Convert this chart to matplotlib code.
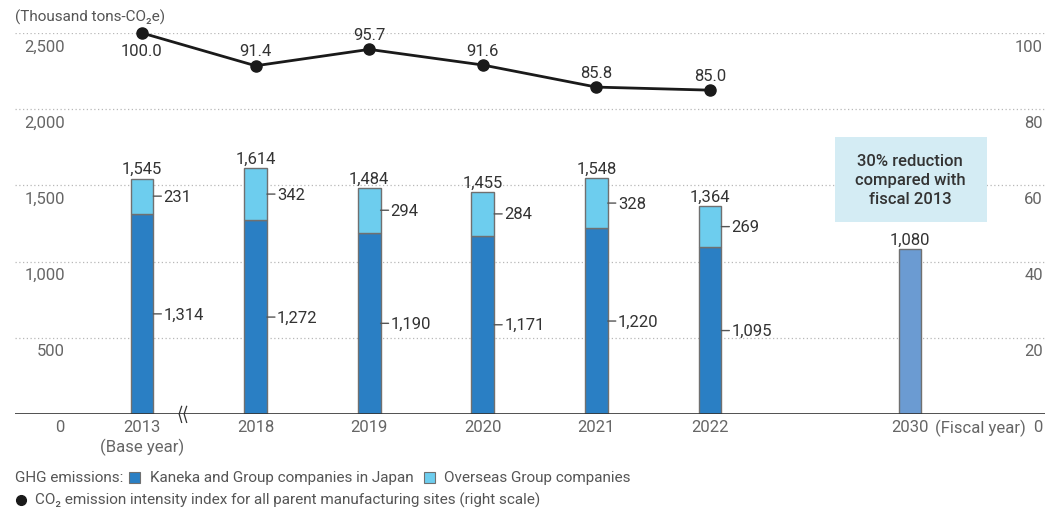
import matplotlib
matplotlib.use("Agg")
import matplotlib.pyplot as plt
from matplotlib import transforms
from matplotlib.patches import Rectangle

plt.rcParams["font.family"] = ["Roboto", "DejaVu Sans"]

# ---- data ----
years = ["2013", "2018", "2019", "2020", "2021", "2022"]
japan = [1314, 1272, 1190, 1171, 1220, 1095]
overseas = [231, 342, 294, 284, 328, 269]
totals = [1545, 1614, 1484, 1455, 1548, 1364]
intensity = [100.0, 91.4, 95.7, 91.6, 85.8, 85.0]
target_year = "2030"
target_value = 1080
left_ticks = [0, 500, 1000, 1500, 2000, 2500]
right_ticks = [0, 20, 40, 60, 80, 100]

# ---- style ----
C_JAPAN = "#2a7fc4"
C_OVER = "#6dcdee"
C_TARGET = "#6b9bd2"
C_EDGE = "#707070"
C_TEXT = "#333333"
C_TICK = "#666666"
C_GRID = "#b8b8b8"

W, H = 1045, 510
Y0, Y1 = 415, 34          # pixel rows of the 0 and 2,500 lines
fig = plt.figure(figsize=(W / 100, H / 100), dpi=100)
fig.patch.set_facecolor("white")

ax = fig.add_axes([15 / W, (H - Y0) / H, (W - 15) / W, (Y0 - Y1) / H])
slot = 113.6
ax.set_xlim((15 - 142) / slot, (W - 142) / slot)
ax.set_ylim(0, 2500)
for s in ax.spines.values():
    s.set_visible(False)
ax.set_xticks([])
ax.set_yticks([])

ax2 = ax.twinx()
ax2.set_ylim(0, 100)
for s in ax2.spines.values():
    s.set_visible(False)
ax2.set_yticks([])

xs = list(range(len(years)))
x_target = 6.76
bw = 0.2

# gridlines and baseline
for v in left_ticks[1:]:
    ax.axhline(v, color=C_GRID, lw=0.9, ls=(0, (1, 2)), zorder=0)
ax.axhline(0, color="#333333", lw=1.2, zorder=3)

# tick labels sitting below their gridlines
off = lambda tr, dx=0, dy=0: transforms.offset_copy(tr, fig=fig, x=dx, y=dy, units="dots")
ltr = transforms.blended_transform_factory(fig.transFigure, ax.transData)
for v in left_ticks:
    ax.text(65 / W, v, f"{v:,}", transform=off(ltr, 0, -13), ha="right", va="center",
            fontsize=12, color=C_TICK)
rtr = transforms.blended_transform_factory(fig.transFigure, ax2.transData)
for v in right_ticks:
    ax2.text(1043 / W, v, f"{v}", transform=off(rtr, 0, -13), ha="right", va="center",
             fontsize=12, color=C_TICK)

# stacked bars
ax.bar(xs, japan, width=bw, color=C_JAPAN, edgecolor=C_EDGE, lw=1, zorder=2)
ax.bar(xs, overseas, width=bw, bottom=japan, color=C_OVER, edgecolor=C_EDGE, lw=1, zorder=2)
ax.bar([x_target], [target_value], width=bw, color=C_TARGET, edgecolor=C_EDGE, lw=1, zorder=2)

for x, j, o, t in zip(xs, japan, overseas, totals):
    ax.text(x, t, f"{t:,}", transform=off(ax.transData, 0, 10), ha="center", va="center",
            fontsize=12, color=C_TEXT)
    for yv, val in ((j + o / 2, o), (j / 2, j)):
        ax.annotate("", xy=(x + bw / 2, yv), xytext=(8, 0), textcoords="offset pixels",
                    arrowprops=dict(arrowstyle="-", color="#555555", lw=1,
                                    shrinkA=0, shrinkB=0))
        ax.text(x + bw / 2, yv, f"{val:,}", transform=off(ax.transData, 10, 0),
                ha="left", va="center", fontsize=12, color=C_TEXT)

ax.text(x_target, target_value, f"{target_value:,}", transform=off(ax.transData, 0, 10),
        ha="center", va="center", fontsize=12, color=C_TEXT)

# target note box
ax.add_patch(Rectangle((6.10, 1263), 1.34, 553, facecolor="#d4ecf4", edgecolor="none", zorder=1))
ax.text(x_target, 1540, "30% reduction\ncompared with\nfiscal 2013", ha="center", va="center",
        fontsize=12, fontweight="medium", color=C_TEXT, linespacing=1.35, zorder=3)

# intensity index line (right scale)
ax2.plot(xs, intensity, color="#1a1a1a", lw=2, marker="o", ms=8, zorder=4, clip_on=False)
for i, (x, v) in enumerate(zip(xs, intensity)):
    dy = -17 if i == 0 else 15
    ax2.text(x, v, f"{v:.1f}", transform=off(ax2.transData, 0, dy), ha="center", va="center",
             fontsize=12, color=C_TEXT)

# x labels
for x, y in zip(xs, years):
    ax.text(x, 0, y, transform=off(ax.transData, 0, -13), ha="center", va="center",
            fontsize=12, color=C_TICK)
ax.text(0, 0, "(Base year)", transform=off(ax.transData, 0, -32), ha="center", va="center",
        fontsize=12, color=C_TICK)
ax.text(x_target, 0, target_year, transform=off(ax.transData, 0, -13), ha="center",
        va="center", fontsize=12, color=C_TICK)
ax.text(980 / W, 0, "(Fiscal year)", transform=off(ltr, 0, -13), ha="center", va="center",
        fontsize=12, color=C_TICK)

# axis break mark between 2013 and 2018
xb = (183 - 142) / slot
for dx in (-2.5, 2.5):
    tr = off(ax.transData, dx, 0)
    ax.plot([xb + 0.01, xb - 0.012, xb + 0.01], [50, 0, -55], color="#333333", lw=0.9,
            transform=tr, clip_on=False, zorder=4)

# legend
def fx(px):
    return px / W

def fy(py):
    return (H - py) / H

fig.text(fx(15), fy(478), "GHG emissions:", ha="left", va="center", fontsize=11, color="#555555")
fig.patches.append(Rectangle((fx(129), fy(483.5)), 11 / W, 11 / H, transform=fig.transFigure,
                             facecolor=C_JAPAN, edgecolor=C_EDGE, lw=0.8))
fig.text(fx(150), fy(478), "Kaneka and Group companies in Japan", ha="left", va="center",
         fontsize=11, color="#555555")
fig.patches.append(Rectangle((fx(424), fy(483.5)), 11 / W, 11 / H, transform=fig.transFigure,
                             facecolor=C_OVER, edgecolor=C_EDGE, lw=0.8))
fig.text(fx(444), fy(478), "Overseas Group companies", ha="left", va="center", fontsize=11,
         color="#555555")
fig.lines.append(plt.Line2D([fx(20.5)], [fy(500.5)], marker="o", ms=7, color="#1a1a1a",
                            transform=fig.transFigure))
fig.text(fx(35), fy(500.5), "CO₂ emission intensity index for all parent manufacturing sites (right scale)",
         ha="left", va="center", fontsize=11, color="#555555")

fig.text(fx(15), fy(17), "(Thousand tons-CO₂e)", ha="left", va="center", fontsize=11,
         color="#555555")

fig.savefig("out.png", dpi=100, facecolor="white")
